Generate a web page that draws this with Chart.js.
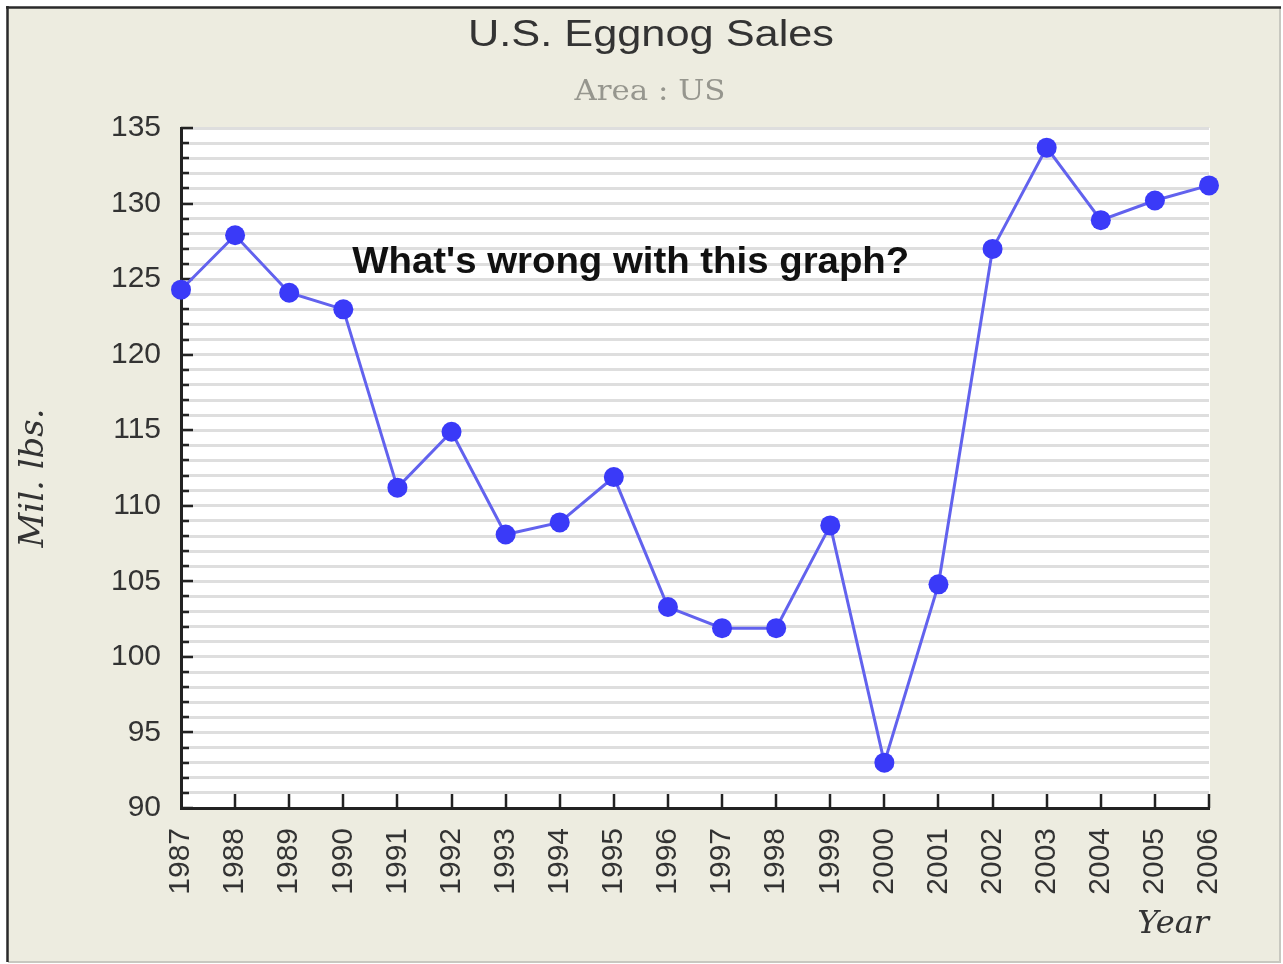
<!DOCTYPE html>
<html>
<head>
<meta charset="utf-8">
<script src="https://cdn.jsdelivr.net/npm/chart.js@4"></script>
<style>
  html, body { margin: 0; padding: 0; background: #ffffff; }
  canvas { display: block; }
</style>
</head>
<body>
<canvas id="c" width="1283" height="964"></canvas>
<script>
const years = ['1987','1988','1989','1990','1991','1992','1993','1994','1995','1996',
               '1997','1998','1999','2000','2001','2002','2003','2004','2005','2006'];
const sales = [124.3, 127.9, 124.1, 123.0, 111.2, 114.9, 108.1, 108.9, 111.9, 103.3,
               101.9, 101.9, 108.7, 93.0, 104.8, 127.0, 133.7, 128.9, 130.2, 131.2];
const yMin = 90;
const yMax = 135;
const titleText = 'U.S. Eggnog Sales';
const subtitleText = 'Area : US';
const yAxisTitle = 'Mil. lbs.';
const xAxisTitle = 'Year';
const noteText = "What's wrong with this graph?";

const BEIGE = '#edece0';

function drawStretched(ctx, text, font, color, cx, baseline, targetW) {
  ctx.save();
  ctx.font = font;
  ctx.fillStyle = color;
  ctx.textAlign = 'center';
  ctx.textBaseline = 'alphabetic';
  const w = ctx.measureText(text).width;
  const sx = targetW / w;
  ctx.translate(cx, baseline);
  ctx.scale(sx, 1);
  ctx.fillText(text, 0, 0);
  ctx.restore();
}

const framePlugin = {
  id: 'frame',
  beforeDraw(chart) {
    const ctx = chart.ctx;
    const W = chart.width, H = chart.height;
    ctx.save();
    ctx.fillStyle = '#ffffff';
    ctx.fillRect(0, 0, W, H);
    ctx.fillStyle = BEIGE;
    ctx.fillRect(8, 8, W - 10, H - 10);
    ctx.strokeStyle = '#c8c8c0';
    ctx.lineWidth = 2;
    ctx.beginPath();
    ctx.moveTo(8, H - 2); ctx.lineTo(W - 2, H - 2);
    ctx.moveTo(W - 3, 8); ctx.lineTo(W - 3, H - 2);
    ctx.stroke();
    ctx.strokeStyle = '#2a2a2a';
    ctx.lineWidth = 2.5;
    ctx.beginPath();
    ctx.moveTo(6, 7.5); ctx.lineTo(W - 2, 7.5);
    ctx.moveTo(7.5, 6); ctx.lineTo(7.5, H - 2);
    ctx.stroke();
    const a = chart.chartArea;
    ctx.fillStyle = '#ffffff';
    ctx.fillRect(a.left, a.top, a.right - a.left + 1, a.bottom - a.top);
    ctx.restore();
    // titles
    drawStretched(ctx, titleText, '36px "Liberation Sans", Arial, sans-serif', '#333333', 651, 46, 366);
    drawStretched(ctx, subtitleText, '28px "DejaVu Serif", serif', '#96968e', 650, 100, 151);
    // y axis title
    ctx.save();
    ctx.font = 'italic 34px "DejaVu Serif", serif';
    ctx.fillStyle = '#333333';
    ctx.textAlign = 'center';
    ctx.textBaseline = 'middle';
    ctx.translate(34, 478);
    ctx.rotate(-Math.PI / 2);
    ctx.fillText(yAxisTitle, 0, 0);
    ctx.restore();
  },
  beforeDatasetsDraw(chart) {
    const ctx = chart.ctx;
    const a = chart.chartArea;
    const xs = chart.scales.x, ys = chart.scales.y;
    ctx.save();
    ctx.strokeStyle = '#222222';
    ctx.lineWidth = 2.5;
    ctx.beginPath();
    for (let v = yMin; v <= yMax; v++) {
      const py = Math.round(ys.getPixelForValue(v));
      const len = (v % 5 === 0) ? 12 : 8;
      ctx.moveTo(a.left, py); ctx.lineTo(a.left + len, py);
    }
    for (let i = 1; i < years.length; i++) {
      const px = Math.round(xs.getPixelForValue(i));
      ctx.moveTo(px, a.bottom); ctx.lineTo(px, a.bottom - 14);
    }
    ctx.stroke();
    ctx.restore();
    // annotation
    const cx = a.left + (a.right - a.left) * 0.4375;
    drawStretched(ctx, noteText, 'bold 37px "Liberation Sans", Arial, sans-serif', '#111111', cx, 273, 557);
  }
};

new Chart(document.getElementById('c'), {
  type: 'line',
  data: {
    labels: years,
    datasets: [{
      data: sales,
      borderColor: '#6262ee',
      borderWidth: 3,
      backgroundColor: '#3a3af8',
      pointBackgroundColor: '#3a3af8',
      pointBorderWidth: 0,
      pointRadius: 10,
      tension: 0,
      clip: false
    }]
  },
  options: {
    responsive: false,
    animation: false,
    devicePixelRatio: 1,
    layout: { padding: { left: 10, right: 74, top: 128, bottom: 8 } },
    plugins: {
      legend: { display: false },
      tooltip: { enabled: false },
      title: { display: false },
      subtitle: { display: false }
    },
    scales: {
      x: {
        type: 'category',
        offset: false,
        grid: { display: false, drawTicks: false },
        border: { display: true, color: '#222222', width: 3 },
        ticks: {
          color: '#333333',
          font: { family: '"Liberation Sans", Arial, sans-serif', size: 30 },
          minRotation: 90, maxRotation: 90,
          autoSkip: false,
          padding: 20
        },
        title: {
          display: true,
          text: xAxisTitle,
          align: 'end',
          color: '#333333',
          font: { family: '"DejaVu Serif", serif', size: 32, style: 'italic' },
          padding: { top: 0, bottom: 12 }
        },
        afterFit(scale) { scale.height = 148; }
      },
      y: {
        min: yMin,
        max: yMax,
        grid: { color: '#dedede', lineWidth: 3, drawTicks: false },
        border: { display: true, color: '#222222', width: 3 },
        ticks: {
          stepSize: 1,
          autoSkip: false,
          color: '#333333',
          font: { family: '"Liberation Sans", Arial, sans-serif', size: 30 },
          padding: 20,
          callback: (v) => (v % 5 === 0 ? String(v) : '')
        },
        title: { display: false },
        afterFit(scale) { scale.width = 171; }
      }
    }
  },
  plugins: [framePlugin]
});
</script>
</body>
</html>
